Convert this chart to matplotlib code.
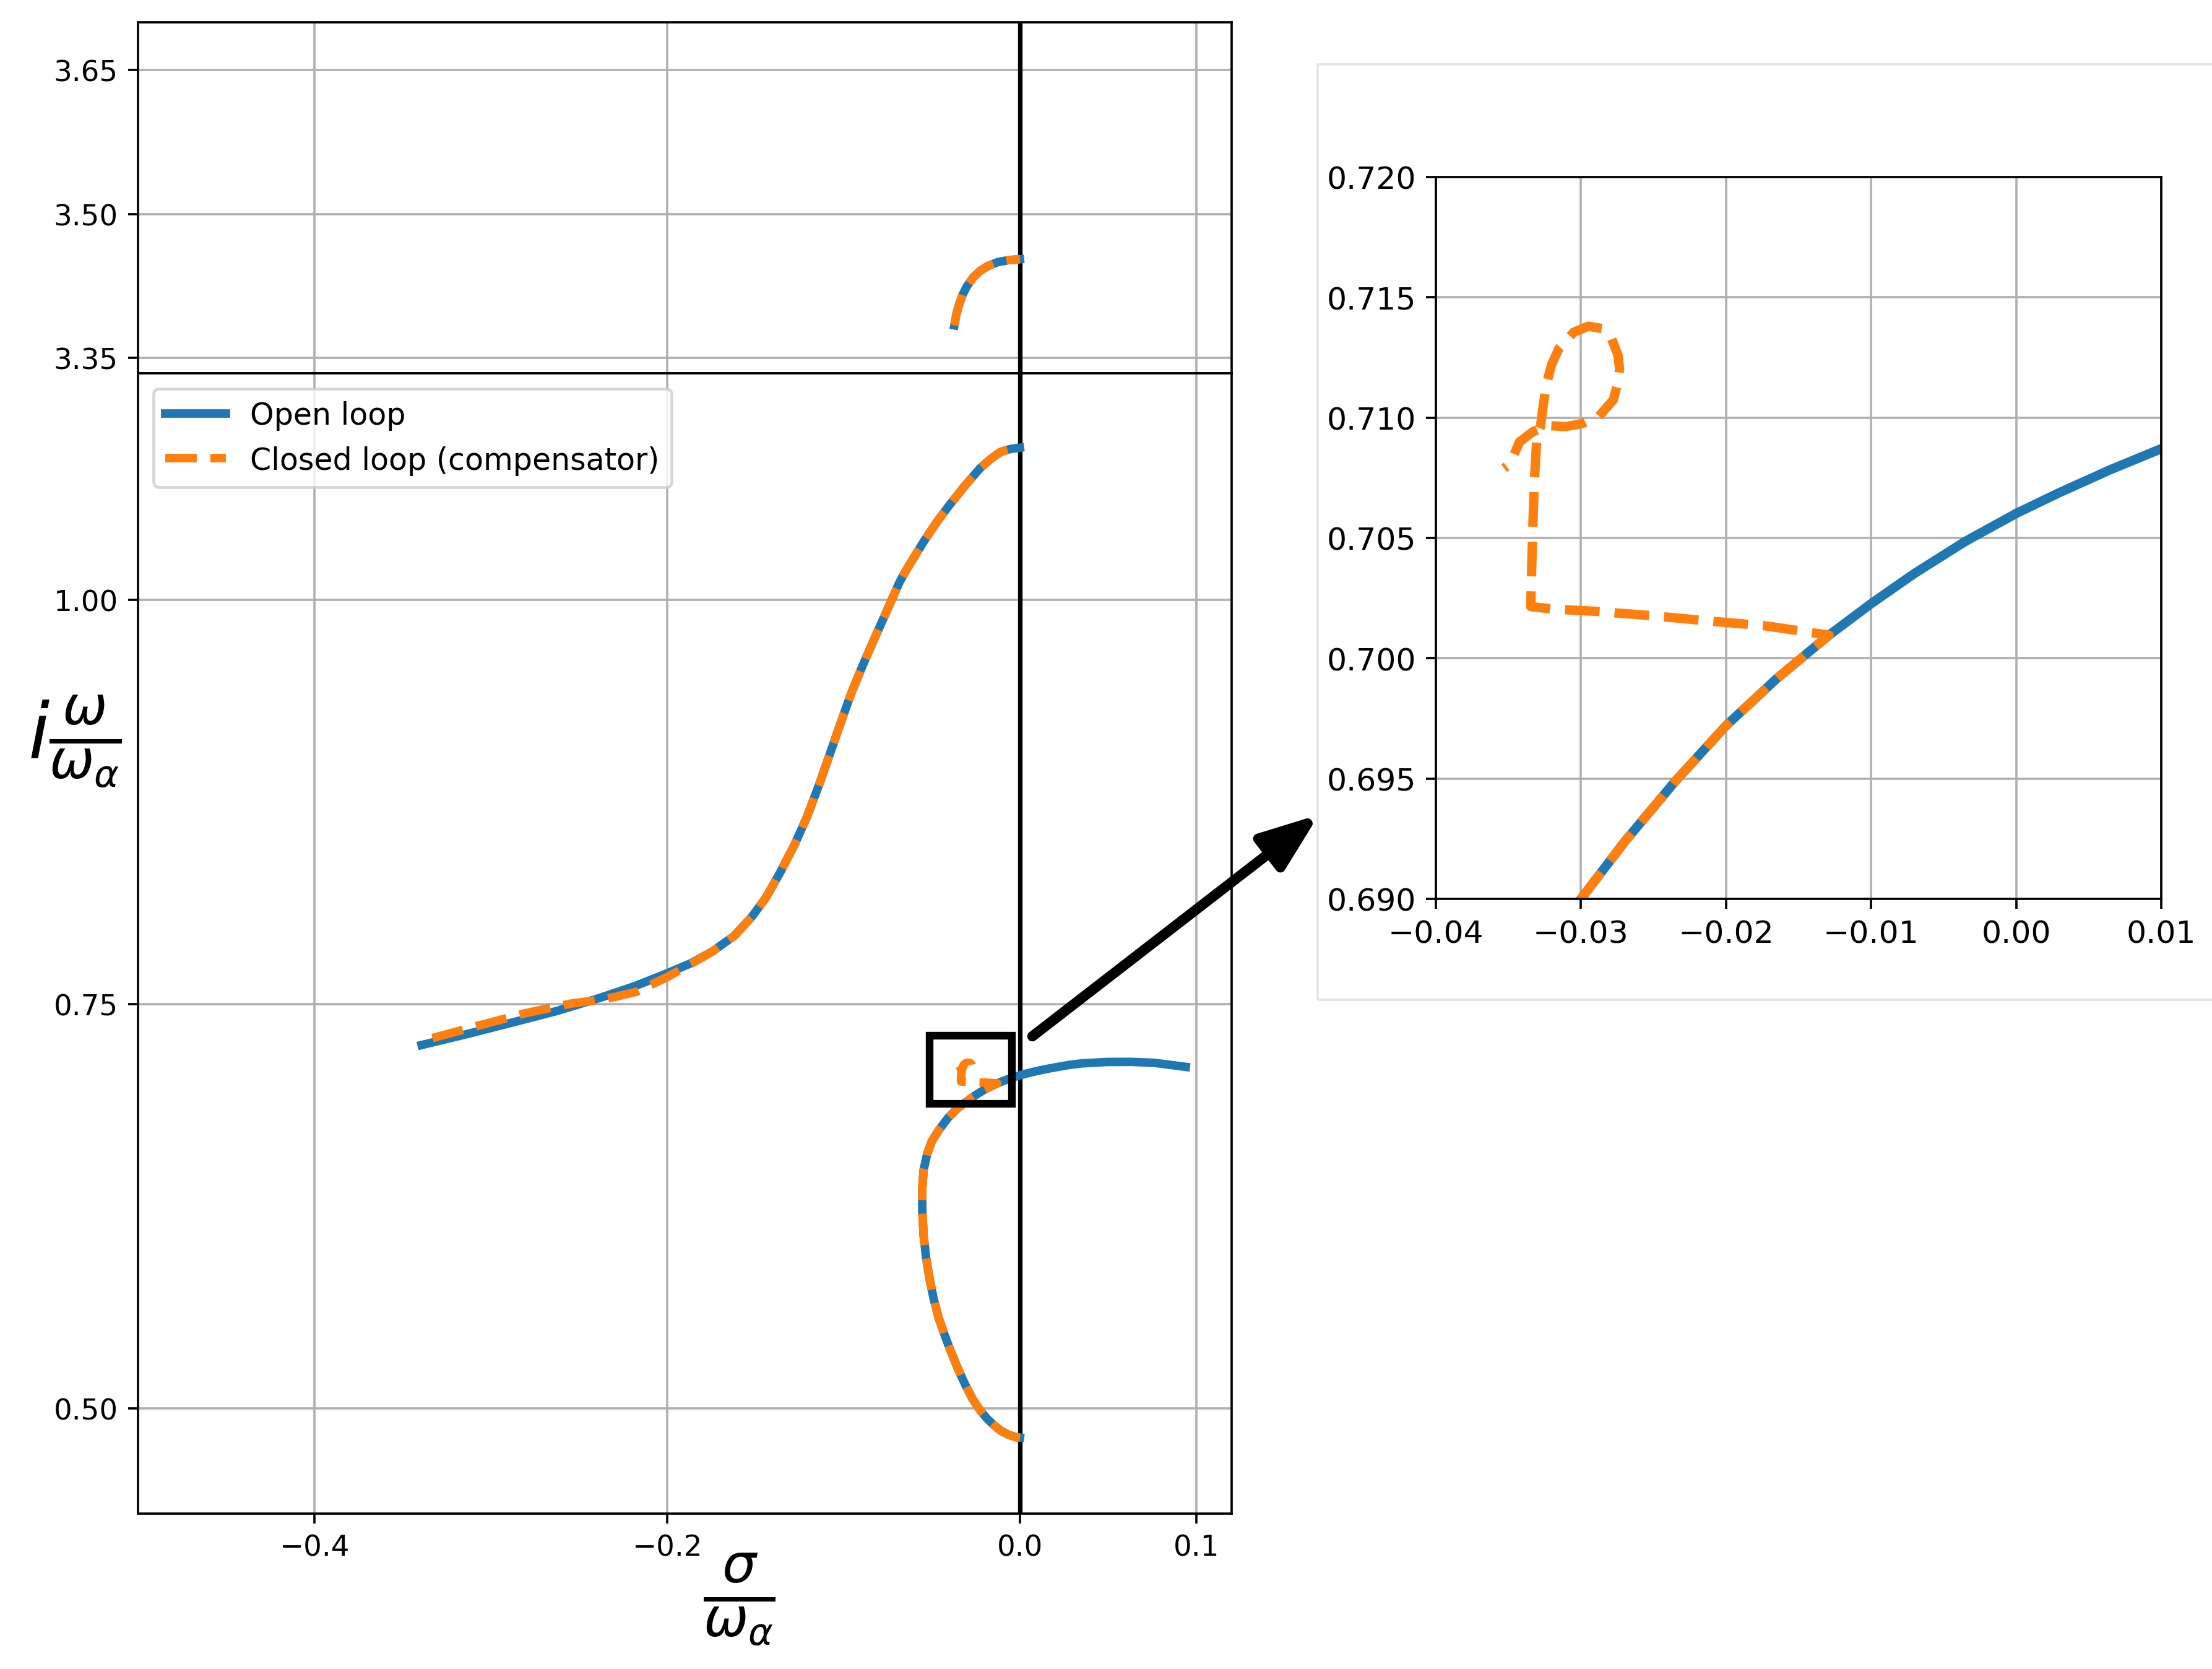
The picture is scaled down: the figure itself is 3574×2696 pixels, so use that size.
import numpy as np
import matplotlib
matplotlib.use('Agg')
import matplotlib.pyplot as plt
from matplotlib.patches import Rectangle

# -----------------------------
# root locus branches (sigma/w_a, omega/w_a)
# -----------------------------
# upper branch (top panel), open and closed loop coincide
top_x = [-0.0372, -0.0360, -0.0345, -0.0325, -0.0300, -0.0265, -0.0225, -0.0180, -0.0125, -0.0065, 0.0]
top_y = [3.384, 3.396, 3.406, 3.416, 3.425, 3.434, 3.441, 3.446, 3.450, 3.452, 3.453]

# S-shaped branch, open loop
s_open_x = [-0.3392, -0.3130, -0.2868, -0.2627, -0.2386, -0.2184, -0.1999, -0.1863, -0.1742,
            -0.1621, -0.1520, -0.1440, -0.1360, -0.1279, -0.1209, -0.1138, -0.1078, -0.1018,
            -0.0957, -0.0897, -0.0834, -0.0782, -0.0729, -0.0682, -0.0636, -0.0589, -0.0542,
            -0.0472, -0.0402, -0.0314, -0.0227, -0.0168, -0.0110, -0.0051, 0.0]
s_open_y = [0.7247, 0.7316, 0.7389, 0.7457, 0.7537, 0.7611, 0.7691, 0.7754, 0.7827,
            0.7921, 0.8040, 0.8159, 0.8313, 0.8484, 0.8654, 0.8859, 0.9046, 0.9234,
            0.9421, 0.9580, 0.9738, 0.9865, 0.9995, 1.0111, 1.0200, 1.0283, 1.0366,
            1.0480, 1.0582, 1.0703, 1.0812, 1.0869, 1.0914, 1.0933, 1.0940]

# S-shaped branch, closed loop (compensator)
s_closed_x = [-0.3331, -0.3070, -0.2808, -0.2547, -0.2346, -0.2175, -0.2004, -0.1863, -0.1742,
              -0.1621, -0.1520, -0.1440, -0.1360, -0.1279, -0.1209, -0.1138, -0.1078, -0.1018,
              -0.0957, -0.0897, -0.0834, -0.0782, -0.0729, -0.0682, -0.0636, -0.0589, -0.0542,
              -0.0472, -0.0402, -0.0314, -0.0227, -0.0168, -0.0110, -0.0051, 0.0]
s_closed_y = [0.7290, 0.7367, 0.7443, 0.7503, 0.7532, 0.7576, 0.7665, 0.7750, 0.7827,
              0.7921, 0.8040, 0.8159, 0.8313, 0.8484, 0.8654, 0.8859, 0.9046, 0.9234,
              0.9421, 0.9580, 0.9738, 0.9865, 0.9995, 1.0111, 1.0200, 1.0283, 1.0366,
              1.0480, 1.0582, 1.0703, 1.0812, 1.0869, 1.0914, 1.0933, 1.0940]

# lower loop branch: shared part (from the imaginary axis up to where the loci split)
loop_common_x = [0.0, -0.0026, -0.0067, -0.0108, -0.0149, -0.0189, -0.0230, -0.0271, -0.0312,
                 -0.0353, -0.0393, -0.0427, -0.0461, -0.0489, -0.0513, -0.0532, -0.0546,
                 -0.0554, -0.0554, -0.0546, -0.0526, -0.0500, -0.0461, -0.0407, -0.0353,
                 -0.0300, -0.0270, -0.0235, -0.0200, -0.0165, -0.0129]
loop_common_y = [0.4820, 0.4823, 0.4839, 0.4862, 0.4898, 0.4940, 0.4995, 0.5063, 0.5151,
                 0.5249, 0.5356, 0.5453, 0.5560, 0.5677, 0.5804, 0.5931, 0.6067,
                 0.6223, 0.6360, 0.6477, 0.6574, 0.6652, 0.6720, 0.6798, 0.6857,
                 0.6900, 0.69237, 0.69489, 0.69720, 0.69916, 0.70096]

# open loop continues to the right half plane
open_tail_x = [-0.0100, -0.0070, -0.0035, 0.0, 0.0030, 0.0065, 0.0100, 0.0160, 0.0219,
               0.0285, 0.0355, 0.0491, 0.0627, 0.0763, 0.0940]
open_tail_y = [0.70227, 0.70353, 0.70486, 0.70602, 0.70689, 0.70784, 0.70871, 0.71009, 0.71127,
               0.7125, 0.7134, 0.7142, 0.7143, 0.7137, 0.7112]

# closed loop detours into a small loop
closed_tail_x = [-0.0173, -0.0212, -0.0253, -0.0290, -0.0320, -0.03346, -0.03339, -0.03331,
                 -0.0332, -0.03303, -0.0328, -0.0326, -0.03239, -0.03203, -0.0315, -0.0305,
                 -0.0295, -0.0285, -0.0279, -0.02745, -0.02734, -0.0274, -0.02777, -0.02876,
                 -0.0299, -0.03104, -0.03225, -0.03331, -0.03424, -0.03488, -0.0353]
closed_tail_y = [0.70135, 0.70155, 0.70178, 0.70195, 0.70205, 0.70215, 0.70388, 0.7056,
                 0.7075, 0.70929, 0.7096, 0.7105, 0.71135, 0.7122, 0.7129, 0.71355,
                 0.7138, 0.7137, 0.7133, 0.7126, 0.71203, 0.7116, 0.71074, 0.71006,
                 0.70976, 0.70963, 0.70967, 0.70942, 0.70899, 0.70809, 0.7079]

loop_open_x = loop_common_x + open_tail_x
loop_open_y = loop_common_y + open_tail_y
loop_closed_x = loop_common_x + closed_tail_x
loop_closed_y = loop_common_y + closed_tail_y

main_xticks = [-0.4, -0.2, 0.0, 0.1]
top_yticks = [3.35, 3.50, 3.65]
bot_yticks = [0.50, 0.75, 1.00]
inset_xticks = [-0.04, -0.03, -0.02, -0.01, 0.00, 0.01]
inset_yticks = [0.690, 0.695, 0.700, 0.705, 0.710, 0.715, 0.720]

BLUE = '#1f77b4'
ORANGE = '#ff7f0e'
LW = 3.0

W, H = 3574, 2697
DPI = 330
fig = plt.figure(figsize=(W / DPI, H / DPI), dpi=DPI)


def frac_box(x0, y0, x1, y1):
    # pixel box (top-left origin) -> figure fraction rect
    return [x0 / W, 1 - y1 / H, (x1 - x0) / W, (y1 - y0) / H]


ax_top = fig.add_axes(frac_box(223, 37, 1990, 604))
ax_bot = fig.add_axes(frac_box(223, 604, 1990, 2446))

for ax in (ax_top, ax_bot):
    ax.grid(True)
    ax.axvline(0, color='black', lw=1.6)
    ax.set_xlim(-0.5, 0.12)
    ax.set_xticks(main_xticks)
    ax.tick_params(labelsize=10.2)

# top panel
ax_top.plot(top_x, top_y, color=BLUE, lw=LW)
ax_top.plot(top_x, top_y, color=ORANGE, lw=LW, ls='--')
ax_top.set_ylim(3.334, 3.70)
ax_top.set_yticks(top_yticks)
ax_top.tick_params(bottom=False, labelbottom=False)

# bottom panel
ax_bot.plot(s_open_x, s_open_y, color=BLUE, lw=LW, label='Open loop')
ax_bot.plot(loop_open_x, loop_open_y, color=BLUE, lw=LW)
ax_bot.plot(s_closed_x, s_closed_y, color=ORANGE, lw=LW, ls='--', label='Closed loop (compensator)')
ax_bot.plot(loop_closed_x, loop_closed_y, color=ORANGE, lw=LW, ls='--')
ax_bot.set_ylim(0.435, 1.14)
ax_bot.set_yticks(bot_yticks)
ax_bot.legend(loc='upper left', fontsize=10.7)

ax_bot.set_ylabel(r'$i\frac{\omega}{\omega_\alpha}$', rotation=0, fontsize=27)
ax_bot.yaxis.set_label_coords(-0.058, 0.6775)
ax_bot.yaxis.label.set_va('center')
ax_bot.yaxis.label.set_ha('center')
ax_bot.set_xlabel(r'$\frac{\sigma}{\omega_\alpha}$', fontsize=27)
ax_bot.xaxis.set_label_coords(0.55, -0.075)
ax_bot.xaxis.label.set_va('center')

# zoom box
ax_bot.add_patch(Rectangle((-0.0512, 0.6885), 0.0466, 0.042, fill=False,
                           ec='black', lw=2.7, zorder=5))

# inset frame + inset axes
fig.add_artist(Rectangle((2129 / W, 1 - 1616 / H), 1.0, (1616 - 105) / H,
                         transform=fig.transFigure, fill=False, ec='#e4e4e4', lw=0.8))
ax_in = fig.add_axes(frac_box(2320, 287, 3492, 1453))
ax_in.grid(True)
ax_in.plot(loop_open_x, loop_open_y, color=BLUE, lw=3.3)
ax_in.plot(loop_closed_x, loop_closed_y, color=ORANGE, lw=3.3, ls='--')
ax_in.set_xlim(-0.04, 0.01)
ax_in.set_ylim(0.690, 0.720)
ax_in.set_xticks(inset_xticks)
ax_in.set_yticks(inset_yticks)
ax_in.set_xticklabels(['%.2f' % v if v >= 0 else '\u2212%.2f' % -v for v in inset_xticks])
ax_in.set_yticklabels(['%.3f' % v for v in inset_yticks])
ax_in.tick_params(labelsize=11)

# arrow from the zoom box to the inset
ax_bot.annotate('', xy=(2131 / W, 1 - 1317 / H), xycoords='figure fraction',
                xytext=(1668 / W, 1 - 1675 / H), textcoords='figure fraction',
                arrowprops=dict(arrowstyle='-|>,head_length=0.85,head_width=0.32',
                                color='black', lw=3.6, mutation_scale=20,
                                shrinkA=0, shrinkB=0),
                annotation_clip=False)

fig.savefig('out.png', dpi=DPI)
plt.close(fig)
